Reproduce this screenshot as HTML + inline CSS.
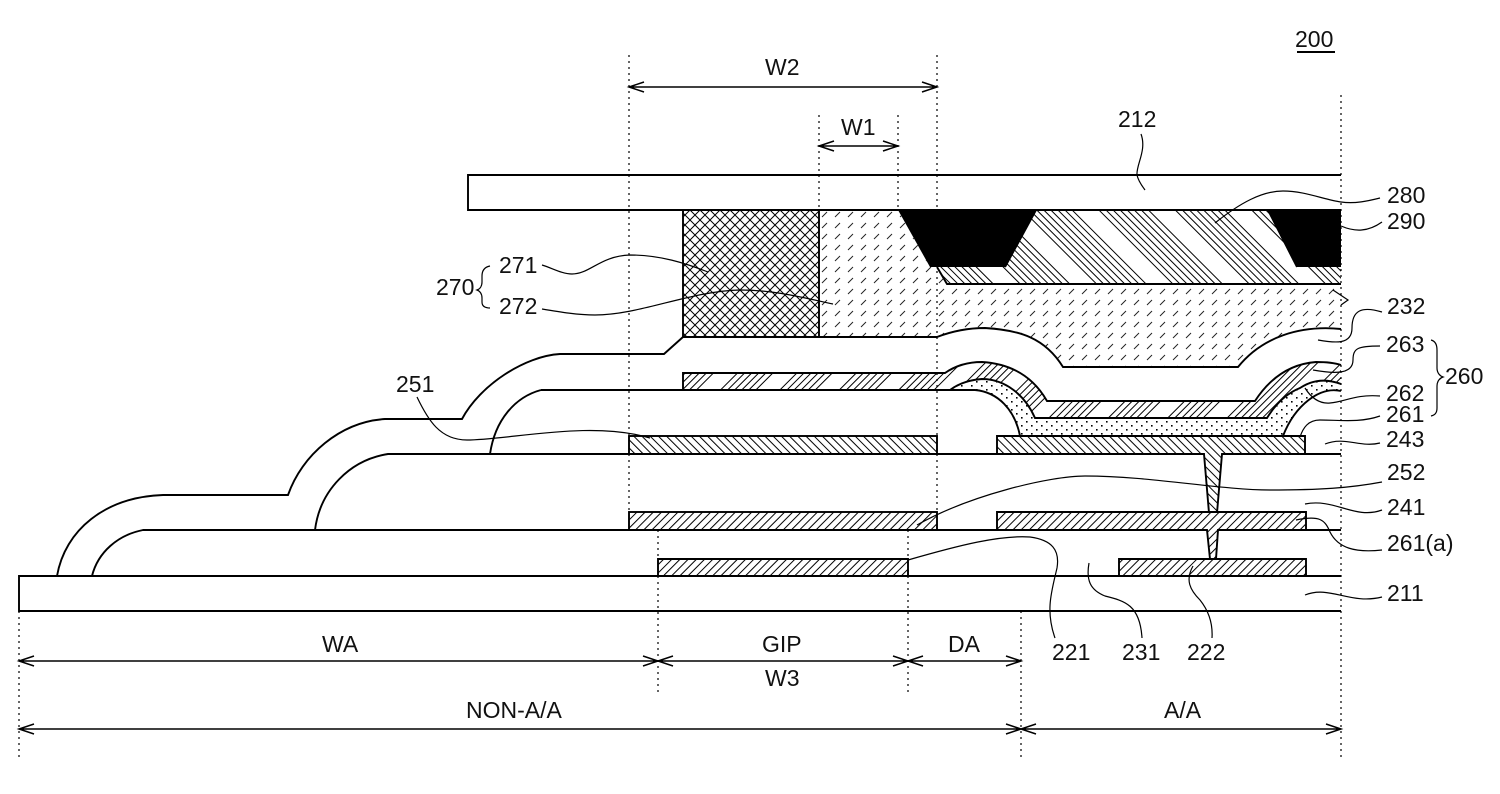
<!DOCTYPE html>
<html><head><meta charset="utf-8"><style>
html,body{margin:0;padding:0;background:#fff}
svg{display:block}
text{font-family:"Liberation Sans",sans-serif;font-size:23px;fill:#111}
.d{stroke:#000;stroke-width:1.2;stroke-dasharray:2 4;fill:none}
.l{stroke:#000;stroke-width:1.2;fill:none}
.m{stroke:#000;stroke-width:1.9;fill:none}
.a{stroke:#000;stroke-width:1.5;fill:none}
</style></head><body>
<svg width="1500" height="794" viewBox="0 0 1500 794" xmlns="http://www.w3.org/2000/svg">
<defs>
<pattern id="bs" width="5.8" height="10" patternUnits="userSpaceOnUse" patternTransform="rotate(-45)"><rect width="1" height="10" fill="#000"/></pattern>
<pattern id="fs" width="5.8" height="10" patternUnits="userSpaceOnUse" patternTransform="rotate(45)"><rect width="1" height="10" fill="#000"/></pattern>
<pattern id="band" width="54" height="10" patternUnits="userSpaceOnUse" patternTransform="rotate(-45 1036 210)"><rect x="0" width="1" height="10" fill="#000"/><rect x="5" width="1" height="10" fill="#000"/><rect x="10" width="1" height="10" fill="#000"/><rect x="15" width="1" height="10" fill="#000"/><rect x="20" width="1" height="10" fill="#000"/><rect x="25" width="1" height="10" fill="#000"/><rect x="30" width="1" height="10" fill="#000"/><rect x="35" width="1" height="10" fill="#000"/></pattern>
<pattern id="band2" width="42" height="10" patternUnits="userSpaceOnUse" patternTransform="rotate(45 700 390)"><rect x="0" width="1" height="10" fill="#000"/><rect x="5" width="1" height="10" fill="#000"/><rect x="10" width="1" height="10" fill="#000"/><rect x="15" width="1" height="10" fill="#000"/><rect x="20" width="1" height="10" fill="#000"/><rect x="25" width="1" height="10" fill="#000"/></pattern>
<pattern id="cross" width="10" height="10" patternUnits="userSpaceOnUse"><path d="M0 0L10 10M10 0L0 10" stroke="#000" stroke-width="1" fill="none"/></pattern>
<pattern id="lc" width="13" height="11" patternUnits="userSpaceOnUse"><path d="M3 8L8 3" stroke="#222" stroke-width="1" fill="none"/></pattern>
<pattern id="dots" width="10" height="8" patternUnits="userSpaceOnUse"><rect x="1" y="1" width="1.6" height="1.6" fill="#000"/><rect x="6" y="5" width="1.6" height="1.6" fill="#000"/></pattern>
</defs>

<!-- dotted guide lines -->
<path class="d" d="M629 55V436M629 454V512M937 55V436M937 454V512M819 115V210M898 115V210M1341 95V760M19 611V760M1021 611V760M658 530V559M658 576V693M908 530V559M908 576V693"/>

<!-- fills -->
<rect x="683" y="210" width="136" height="127" fill="url(#cross)"/>
<path fill="url(#lc)" d="M819 210H898L930 267H937L947 284H1341V329C1300 325 1262 337 1238 367H1063C1045 338 1020 330 985 328C965 328 950 332 937 337H819Z"/>
<path fill="#000" d="M898 210H1036L1005 267H930Z"/>
<path fill="#000" d="M1268 210H1341V267H1297Z"/>
<path fill="url(#band)" d="M1036 210H1268L1297 267H1341V284H947L937 267H1005Z"/>
<path fill="url(#band2)" d="M683 373H945C955 366 968 362 982 362C1015 364 1035 380 1047 401H1255C1270 378 1290 364 1316 362C1325 362 1335 363 1341 365V384C1325 378 1312 380 1300 388C1285 394 1275 405 1267 418H1035C1025 395 1005 379 982 379C968 380 958 384 950 390H683Z"/>
<path fill="url(#dots)" d="M950 390C958 384 968 380 982 379C1005 379 1025 395 1035 418H1267C1275 405 1285 394 1300 388C1312 380 1325 378 1341 384V391C1320 386 1295 405 1283 436H1020C1015 410 998 392 975 390Z"/>
<path fill="url(#bs)" d="M629 436H937V454H629Z"/>
<path fill="url(#bs)" d="M997 436H1305V454H1222L1217 513H1209L1204 454H997Z"/>
<rect x="629" y="512" width="308" height="18" fill="url(#fs)"/>
<path fill="url(#fs)" d="M997 512H1306V530H1218L1216 559H1210L1207 530H997Z"/>
<rect x="658" y="559" width="250" height="17" fill="url(#fs)"/>
<rect x="1119" y="559" width="187" height="17" fill="url(#fs)"/>

<!-- structure lines -->
<path class="m" d="M1341 175H468V210H1341"/>
<path class="m" d="M1341 576H19V611H1341"/>
<path class="m" d="M683 210V337M819 210V337"/>
<path class="m" d="M937 267L947 284H1341"/>
<path class="m" d="M1341 329C1300 325 1262 337 1238 367H1063C1045 338 1020 330 985 328C965 328 950 332 937 337H683L664 354H560C525 356 480 385 462 419H385C340 422 302 455 288 495H163C105 497 65 530 57 576"/>
<path class="m" d="M683 390V373H945C955 366 968 362 982 362C1015 364 1035 380 1047 401H1255C1270 378 1290 364 1316 362C1325 362 1335 363 1341 365"/>
<path class="m" d="M950 390C958 384 968 380 982 379C1005 379 1025 395 1035 418H1267C1275 405 1285 394 1300 388C1312 380 1325 378 1341 384"/>
<path class="m" d="M541 390H975C998 392 1015 410 1020 436M1283 436C1295 405 1320 386 1341 391"/>
<path class="m" d="M490 454C495 420 515 397 541 390"/>
<path class="m" d="M315 530C320 490 350 460 388 454H1204L1209 513M1217 513L1222 454H1341"/>
<path class="m" d="M92 576C98 552 118 535 143 530H1207L1210 559M1216 559L1218 530H1341"/>
<path class="m" d="M1036 210L1005 267M1268 210L1297 267"/>
<rect class="m" x="629" y="436" width="308" height="18"/>
<path class="m" d="M997 454V436H1305V454"/>
<rect class="m" x="629" y="512" width="308" height="18"/>
<path class="m" d="M997 530V512H1306V530"/>
<path class="m" d="M658 576V559H908V576M1119 576V559H1306V576"/>
<path class="l" d="M1333 290L1348 300L1341 305"/>

<!-- dimension arrows -->
<path class="a" d="M629 87H937M644 82L629 87L644 92M922 82L937 87L922 92"/>
<path class="a" d="M819 146H898M834 141L819 146L834 151M883 141L898 146L883 151"/>
<path class="a" d="M19 661H1021M34 656L19 661L34 666M643 656L658 661L643 666M673 656L658 661L673 666M893 656L908 661L893 666M923 656L908 661L923 666M1006 656L1021 661L1006 666"/>
<path class="a" d="M19 729H1341M34 724L19 729L34 734M1006 724L1021 729L1006 734M1036 724L1021 729L1036 734M1326 724L1341 729L1326 734"/>

<!-- leaders -->
<path class="l" d="M1141 134C1147 150 1136 165 1137 175C1138 180 1142 186 1145 190"/>
<path class="l" d="M1215 223C1240 203 1262 191 1283 191C1305 191 1325 200 1341 202C1355 204 1368 201 1380 198"/>
<path class="l" d="M1341 226C1355 232 1368 232 1382 222"/>
<path class="l" d="M542 265C552 268 562 274 572 274C590 274 600 256 630 255C660 255 685 263 708 272"/>
<path class="l" d="M542 309C560 312 578 315 595 315C640 315 690 291 740 290C775 290 805 298 833 304"/>
<path class="l" d="M1318 340C1335 343 1352 345 1352 328C1352 310 1362 306 1382 312"/>
<path class="l" d="M1313 370C1330 373 1353 376 1353 360C1353 348 1358 346 1380 346"/>
<path class="l" d="M1305 388C1310 396 1318 404 1330 403C1345 402 1355 394 1380 396"/>
<path class="l" d="M1300 437C1303 428 1308 420 1320 420C1340 420 1360 423 1380 416"/>
<path class="l" d="M1325 444C1345 436 1360 448 1380 443"/>
<path class="l" d="M917 525C970 495 1050 476 1085 476C1150 476 1220 490 1270 490C1320 490 1350 488 1382 482"/>
<path class="l" d="M1305 504C1335 498 1355 520 1382 510"/>
<path class="l" d="M1296 520C1320 515 1325 520 1330 532C1338 548 1355 553 1382 550"/>
<path class="l" d="M1305 595C1330 585 1350 605 1382 597"/>
<path class="l" d="M908 560C960 545 1000 535 1030 537C1052 540 1060 550 1057 568C1052 590 1045 610 1055 638"/>
<path class="l" d="M1089 563C1086 580 1090 590 1105 596C1125 601 1140 605 1142 638"/>
<path class="l" d="M1193 566C1185 580 1190 590 1200 600C1208 610 1213 622 1212 638"/>
<path class="l" d="M417 397C428 420 440 440 467 440C510 440 590 420 650 438"/>

<!-- braces -->
<path class="l" d="M490 266C485 267 482 270 482 276V282C482 286 480 289 477 290C480 291 482 294 482 298V302C482 306 485 308 490 308"/>
<path class="l" d="M1431 340C1435 341 1437 344 1437 350V368C1437 373 1440 376 1443 377C1440 378 1437 381 1437 386V408C1437 413 1435 415 1431 416"/>
<path class="m" d="M1297 52H1335"/>

<!-- labels -->
<text x="1295" y="47">200</text>
<text x="765" y="75">W2</text>
<text x="841" y="135">W1</text>
<text x="1118" y="127">212</text>
<text x="1387" y="203">280</text>
<text x="1387" y="229">290</text>
<text x="436" y="295">270</text>
<text x="499" y="273">271</text>
<text x="499" y="314">272</text>
<text x="1387" y="314">232</text>
<text x="1386" y="352">263</text>
<text x="1445" y="384">260</text>
<text x="1386" y="401">262</text>
<text x="1386" y="422">261</text>
<text x="1386" y="447">243</text>
<text x="1387" y="480">252</text>
<text x="1387" y="515">241</text>
<text x="1387" y="551">261(a)</text>
<text x="1387" y="601">211</text>
<text x="396" y="392">251</text>
<text x="1052" y="660">221</text>
<text x="1122" y="660">231</text>
<text x="1187" y="660">222</text>
<text x="322" y="652">WA</text>
<text x="762" y="652">GIP</text>
<text x="948" y="652">DA</text>
<text x="765" y="686">W3</text>
<text x="466" y="718">NON-A/A</text>
<text x="1164" y="718">A/A</text>
</svg>
</body></html>
